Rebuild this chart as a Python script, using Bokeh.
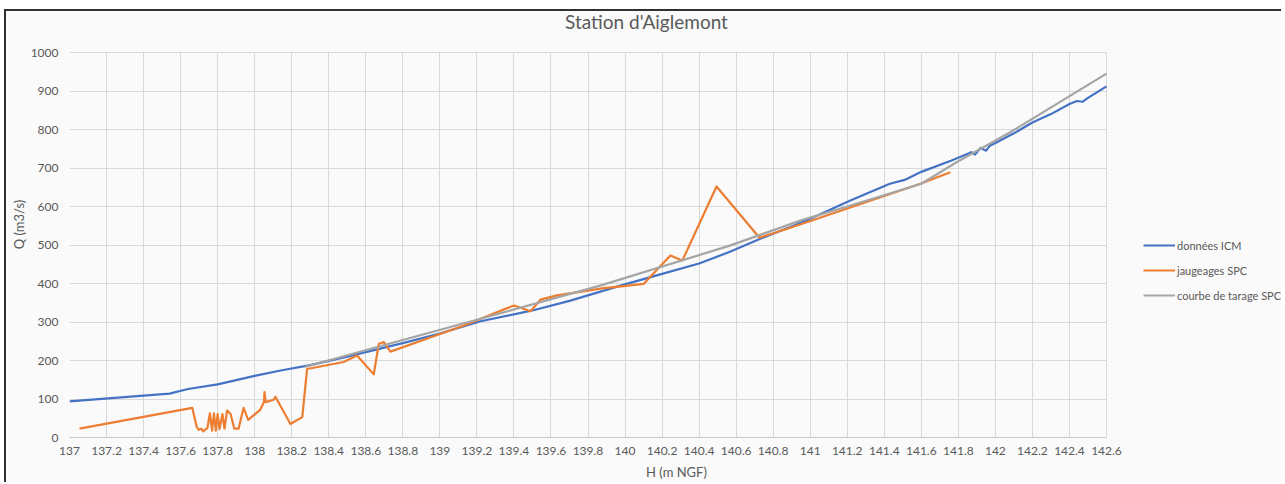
from bokeh.plotting import figure
from bokeh.models import Range1d, FixedTicker, Legend, LegendItem, Label
from bokeh.embed import file_html
from bokeh.resources import INLINE

# ---------------- data ----------------
chart_title = "Station d'Aiglemont"
x_label = "H (m NGF)"
y_label = "Q (m3/s)"
series_names = ["données ICM", "jaugeages SPC", "courbe de tarage SPC"]

x_ticks = [137.0, 137.2, 137.4, 137.6, 137.8, 138.0, 138.2, 138.4, 138.6, 138.8,
           139.0, 139.2, 139.4, 139.6, 139.8, 140.0, 140.2, 140.4, 140.6, 140.8,
           141.0, 141.2, 141.4, 141.6, 141.8, 142.0, 142.2, 142.4, 142.6]
x_tick_labels = ["137", "137.2", "137.4", "137.6", "137.8", "138", "138.2", "138.4",
                 "138.6", "138.8", "139", "139.2", "139.4", "139.6", "139.8", "140",
                 "140.2", "140.4", "140.6", "140.8", "141", "141.2", "141.4", "141.6",
                 "141.8", "142", "142.2", "142.4", "142.6"]
y_ticks = [0, 100, 200, 300, 400, 500, 600, 700, 800, 900, 1000]

# données ICM (blue)
icm_h = [137.0, 137.54, 137.64, 137.8, 138.0, 138.14, 138.3, 138.5, 138.8, 139.0,
         139.22, 139.5, 139.7, 139.98, 140.2, 140.4, 140.57, 140.73, 140.9, 141.0,
         141.22, 141.43, 141.51, 141.6, 141.76, 141.87, 141.89, 141.92, 141.95, 141.97,
         142.0, 142.1, 142.2, 142.3, 142.4, 142.44, 142.47, 142.5, 142.55, 142.6]
icm_q = [94, 114, 126, 138, 160, 174, 188, 210, 245, 270,
         302, 330, 355, 395, 425, 452, 483, 516, 548, 568,
         616, 659, 669, 690, 719, 741, 735, 752, 745, 758,
         765, 790, 818, 840, 866, 874, 872, 882, 897, 912]

# jaugeages SPC (orange)
spc_h = [137.054, 137.663, 137.686, 137.698, 137.711, 137.722, 137.745, 137.758,
         137.770, 137.780, 137.790, 137.800, 137.810, 137.826, 137.837, 137.851,
         137.870, 137.890, 137.913, 137.940, 137.965, 138.030, 138.050, 138.053,
         138.060, 138.103, 138.112, 138.193, 138.257, 138.283, 138.480, 138.553,
         138.643, 138.670, 138.697, 138.733, 138.967, 139.130, 139.400, 139.490,
         139.543, 139.633, 139.885, 139.993, 140.100, 140.245, 140.310, 140.494,
         140.726, 140.893, 141.595, 141.757]
spc_q = [23, 77, 29, 20, 23, 16, 25, 63,
         18, 63, 18, 61, 22, 61, 23, 70,
         61, 23, 23, 77, 46, 72, 92, 118,
         92, 98, 106, 35, 53, 178, 196, 213,
         164, 243, 248, 223, 263, 291, 343, 328,
         358, 369, 388, 393, 399, 473, 460, 652,
         519, 545, 659, 689]

# courbe de tarage SPC (grey)
tarage_h = [138.27, 138.79, 139.2, 139.87, 140.57, 140.95, 141.2, 141.6, 141.79, 142.08, 142.6]
tarage_q = [183, 252, 306, 395, 499, 564, 600, 659, 715, 793, 945]

# ---------------- styles / layout ----------------
BLUE = "#4472C4"
ORANGE = "#ED7D31"
GREY = "#A5A5A5"
TXT = "#595959"
GRID = "#d9d9d9"
BG = "#fafafa"
FONT = "Lato"

X0, X1 = 137.0, 142.6          # plotted x extent
Y0, Y1 = 0, 1000               # plotted y extent
PLOT_W_PX, PLOT_H_PX = 1037, 385
CANVAS_W, CANVAS_H = 1277, 473
LEFT, BOTTOM = 63, 47
frame_w = CANVAS_W - LEFT
frame_h = CANVAS_H - BOTTOM
x_end = X0 + (X1 - X0) * frame_w / PLOT_W_PX
y_end = Y0 + (Y1 - Y0) * frame_h / PLOT_H_PX

p = figure(width=CANVAS_W, height=CANVAS_H, output_backend="svg", toolbar_location=None,
           x_range=Range1d(X0, x_end), y_range=Range1d(Y0, y_end),
           min_border_left=LEFT, min_border_right=0, min_border_top=0,
           min_border_bottom=BOTTOM)
p.styles = {"border-top": "2px solid #303030", "border-left": "2px solid #303030",
            "margin-left": "4px", "margin-top": "9px"}
p.background_fill_color = BG
p.border_fill_color = BG
p.outline_line_color = None

p.xaxis.ticker = FixedTicker(ticks=x_ticks)
p.xaxis.major_label_overrides = {t: l for t, l in zip(x_ticks, x_tick_labels)}
p.yaxis.ticker = FixedTicker(ticks=y_ticks)
p.xaxis.bounds = (X0, X1)
p.yaxis.bounds = (Y0, Y1)

for ax in (p.xaxis[0], p.yaxis[0]):
    ax.major_tick_line_color = None
    ax.minor_tick_line_color = None
    ax.major_tick_out = 0
    ax.major_tick_in = 0
    ax.minor_tick_out = 0
    ax.minor_tick_in = 0
    ax.major_label_text_font = FONT
    ax.major_label_text_font_size = "12px"
    ax.major_label_text_color = TXT
    ax.axis_label_text_font = FONT
    ax.axis_label_text_font_size = "13px"
    ax.axis_label_text_font_style = "normal"
    ax.axis_label_text_color = TXT

p.xaxis.axis_label = x_label
p.yaxis.axis_label = y_label
p.xaxis.axis_line_color = "#c8c8c8"
p.yaxis.axis_line_color = None
p.xaxis.major_label_standoff = 9
p.xaxis.axis_label_standoff = 6
p.yaxis.major_label_standoff = 11
p.yaxis.axis_label_standoff = 1

p.xgrid.grid_line_color = GRID
p.ygrid.grid_line_color = GRID
p.xgrid.ticker = FixedTicker(ticks=x_ticks)
p.ygrid.ticker = FixedTicker(ticks=y_ticks)
p.xgrid.bounds = (X0, X1)
p.xgrid.cross_bounds = (Y0, Y1)
p.ygrid.bounds = (Y0, Y1)
p.ygrid.cross_bounds = (X0, X1)

r_icm = p.line(icm_h, icm_q, line_color=BLUE, line_width=2.2, line_join="round")
r_spc = p.line(spc_h, spc_q, line_color=ORANGE, line_width=2.2, line_join="round")
r_tar = p.line(tarage_h, tarage_q, line_color=GREY, line_width=2.2, line_join="round")

legend = Legend(items=[LegendItem(label=series_names[0], renderers=[r_icm]),
                       LegendItem(label=series_names[1], renderers=[r_spc]),
                       LegendItem(label=series_names[2], renderers=[r_tar])],
                location=(1074, 132), orientation="vertical")
legend.background_fill_alpha = 0
legend.border_line_color = None
legend.padding = 0
legend.margin = 0
legend.spacing = 5
legend.glyph_width = 32
legend.glyph_height = 20
legend.label_standoff = 2
legend.label_text_font = FONT
legend.label_text_font_size = "11px"
legend.label_text_color = TXT
p.add_layout(legend, "center")

title = Label(x=X0 + (X1 - X0) * 577 / PLOT_W_PX, y=Y0 + (Y1 - Y0) * 416 / PLOT_H_PX,
              text=chart_title, text_align="center", text_baseline="middle",
              text_font=FONT, text_font_size="19px", text_color=TXT)
p.add_layout(title)

open("out.html", "w").write(file_html(p, INLINE))
